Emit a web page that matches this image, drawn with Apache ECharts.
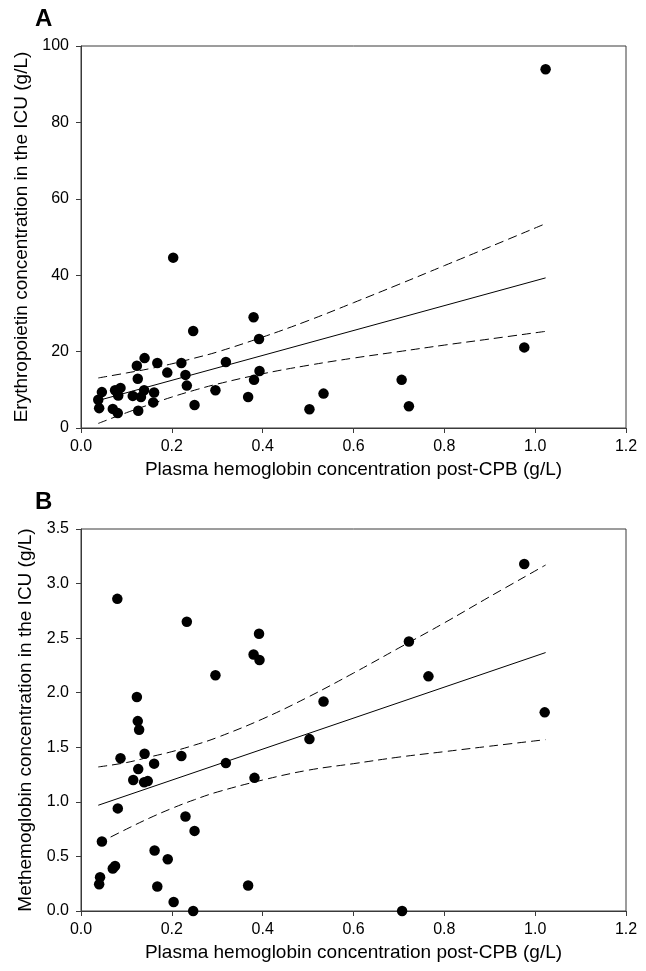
<!DOCTYPE html>
<html>
<head>
<meta charset="utf-8">
<script src="https://cdn.jsdelivr.net/npm/echarts@6/dist/echarts.min.js"></script>
<style>
  html, body { margin: 0; padding: 0; background: #fff; }
  #chart { width: 646px; height: 971px; }
</style>
</head>
<body>
<div id="chart"></div>
<script>
// Panel A: plasma hemoglobin post-CPB (g/L) vs erythropoietin in the ICU
const epoX = [0.380, 0.247, 0.392, 0.140, 0.123, 0.168, 0.221, 0.319, 0.190, 0.230,
              0.393, 0.381, 0.125, 0.233, 0.046, 0.075, 0.087, 0.082, 0.038, 0.139,
              0.114, 0.132, 0.161, 0.159, 0.296, 0.040, 0.070, 0.081, 0.126, 0.368,
              0.250, 0.503, 0.534, 0.706, 0.722, 0.976, 1.023, 0.203];
const epoY = [29.0, 25.4, 23.3, 18.3, 16.3, 17.0, 17.0, 17.3, 14.5, 13.9,
              14.9, 12.6, 12.9, 11.1, 9.4, 9.9, 10.5, 8.5, 7.4, 9.9,
              8.4, 8.1, 9.3, 6.7, 9.9, 5.2, 5.0, 3.9, 4.5, 8.1,
              6.0, 4.9, 9.0, 12.6, 5.7, 21.1, 93.9, 44.6];

// Panel B: plasma hemoglobin post-CPB (g/L) vs methemoglobin in the ICU
const methX = [0.080, 0.233, 0.392, 0.380, 0.393, 0.296, 0.123, 0.125, 0.128, 0.087,
               0.140, 0.221, 0.161, 0.126, 0.115, 0.139, 0.147, 0.319, 0.382, 0.081,
               0.230, 0.250, 0.046, 0.162, 0.191, 0.070, 0.075, 0.042, 0.040, 0.168,
               0.368, 0.204, 0.247, 0.976, 0.722, 0.765, 0.534, 0.503, 1.021, 0.707];
const methY = [2.86, 2.65, 2.54, 2.35, 2.30, 2.16, 1.96, 1.74, 1.66, 1.40,
               1.44, 1.42, 1.35, 1.30, 1.20, 1.18, 1.19, 1.355, 1.22, 0.94,
               0.866, 0.734, 0.637, 0.554, 0.474, 0.389, 0.413, 0.309, 0.245, 0.224,
               0.233, 0.083, 0.0, 3.18, 2.47, 2.15, 1.92, 1.575, 1.82, 0.0];

// Regression lines (end points) and 95% confidence bands
const fitX = [0.038, 1.023];
const epoFitY = [7.2, 39.3];
const methFitY = [0.969, 2.368];

const bandX = [0.038, 0.1, 0.15, 0.2, 0.25, 0.3, 0.4, 0.5, 0.6, 0.7, 0.8, 0.9, 1.023];
const epoUpper = [13.1, 14.4, 15.5, 16.8, 18.3, 19.9, 23.8, 28.1, 32.8, 37.6, 42.5, 47.4, 53.5];
const epoLower = [1.2, 4.0, 6.1, 8.1, 9.9, 11.5, 14.2, 16.4, 18.3, 20.0, 21.7, 23.3, 25.3];
const methUpper = [1.32, 1.36, 1.41, 1.46, 1.52, 1.59, 1.76, 1.96, 2.18, 2.41, 2.64, 2.88, 3.17];
const methLower = [0.62, 0.75, 0.85, 0.94, 1.02, 1.09, 1.20, 1.29, 1.35, 1.41, 1.46, 1.51, 1.57];

const xTicks = { min: 0, max: 1.2, interval: 0.2 };
const epoTicks = { min: 0, max: 100, interval: 20 };
const methTicks = { min: 0, max: 3.5, interval: 0.5 };

const xTitle = 'Plasma hemoglobin concentration post-CPB (g/L)';
const epoTitle = 'Erythropoietin concentration in the ICU (g/L)';
const methTitle = 'Methemoglobin concentration in the ICU (g/L)';

const FONT = '"Liberation Sans", Arial, Helvetica, sans-serif';
const AXIS_COLOR = '#3a3a3a';

const zip = (xs, ys) => xs.map((x, i) => [x, ys[i]]);

function xAxisFor(gridIndex) {
  return {
    type: 'value', gridIndex,
    min: xTicks.min, max: xTicks.max, interval: xTicks.interval,
    name: xTitle, nameLocation: 'middle', nameGap: 32,
    nameTextStyle: { fontFamily: FONT, fontSize: 19, color: '#000' },
    axisLine: { show: true, lineStyle: { color: AXIS_COLOR, width: 1 } },
    axisTick: { show: true, inside: false, length: 5, lineStyle: { color: AXIS_COLOR } },
    axisLabel: { margin: 11, fontFamily: FONT, fontSize: 16, color: '#000',
                 formatter: v => v.toFixed(1) },
    splitLine: { show: false }
  };
}

function yAxisFor(gridIndex, ticks, title, digits) {
  return {
    type: 'value', gridIndex,
    min: ticks.min, max: ticks.max, interval: ticks.interval,
    name: title, nameLocation: 'middle', nameGap: 46, nameRotate: 90,
    nameTextStyle: { fontFamily: FONT, fontSize: 19, color: '#000' },
    axisLine: { show: true, lineStyle: { color: AXIS_COLOR, width: 1 } },
    axisTick: { show: true, inside: false, length: 5, lineStyle: { color: AXIS_COLOR } },
    axisLabel: { margin: 12, fontFamily: FONT, fontSize: 16, color: '#000',
                 formatter: v => v.toFixed(digits) },
    splitLine: { show: false }
  };
}

function scatter(idx, xs, ys) {
  return {
    type: 'scatter', xAxisIndex: idx, yAxisIndex: idx,
    data: zip(xs, ys), symbol: 'circle', symbolSize: 10.5,
    itemStyle: { color: '#000', opacity: 1 }, z: 5, silent: true
  };
}

function line(idx, xs, ys, dashed) {
  return {
    type: 'line', xAxisIndex: idx, yAxisIndex: idx,
    data: zip(xs, ys), showSymbol: false, smooth: dashed ? 0.4 : false,
    lineStyle: { color: '#000', width: 1, type: dashed ? [9, 5] : 'solid' },
    z: 3, silent: true
  };
}

const chart = echarts.init(document.getElementById('chart'), null, { renderer: 'canvas' });
chart.setOption({
  animation: false,
  backgroundColor: '#fff',
  grid: [
    { left: 81, top: 46, width: 545, height: 382, show: true, borderColor: AXIS_COLOR, borderWidth: 1, backgroundColor: 'transparent' },
    { left: 81, top: 529, width: 545, height: 382, show: true, borderColor: AXIS_COLOR, borderWidth: 1, backgroundColor: 'transparent' }
  ],
  xAxis: [xAxisFor(0), xAxisFor(1)],
  yAxis: [yAxisFor(0, epoTicks, epoTitle, 0), yAxisFor(1, methTicks, methTitle, 1)],
  graphic: [
    { type: 'text', left: 35, top: 7, style: { text: 'A', fontFamily: FONT, fontSize: 24, fontWeight: 'bold', fill: '#000' } },
    { type: 'text', left: 35, top: 490, style: { text: 'B', fontFamily: FONT, fontSize: 24, fontWeight: 'bold', fill: '#000' } }
  ],
  series: [
    scatter(0, epoX, epoY),
    line(0, fitX, epoFitY, false),
    line(0, bandX, epoUpper, true),
    line(0, bandX, epoLower, true),
    scatter(1, methX, methY),
    line(1, fitX, methFitY, false),
    line(1, bandX, methUpper, true),
    line(1, bandX, methLower, true)
  ]
});
</script>
</body>
</html>
